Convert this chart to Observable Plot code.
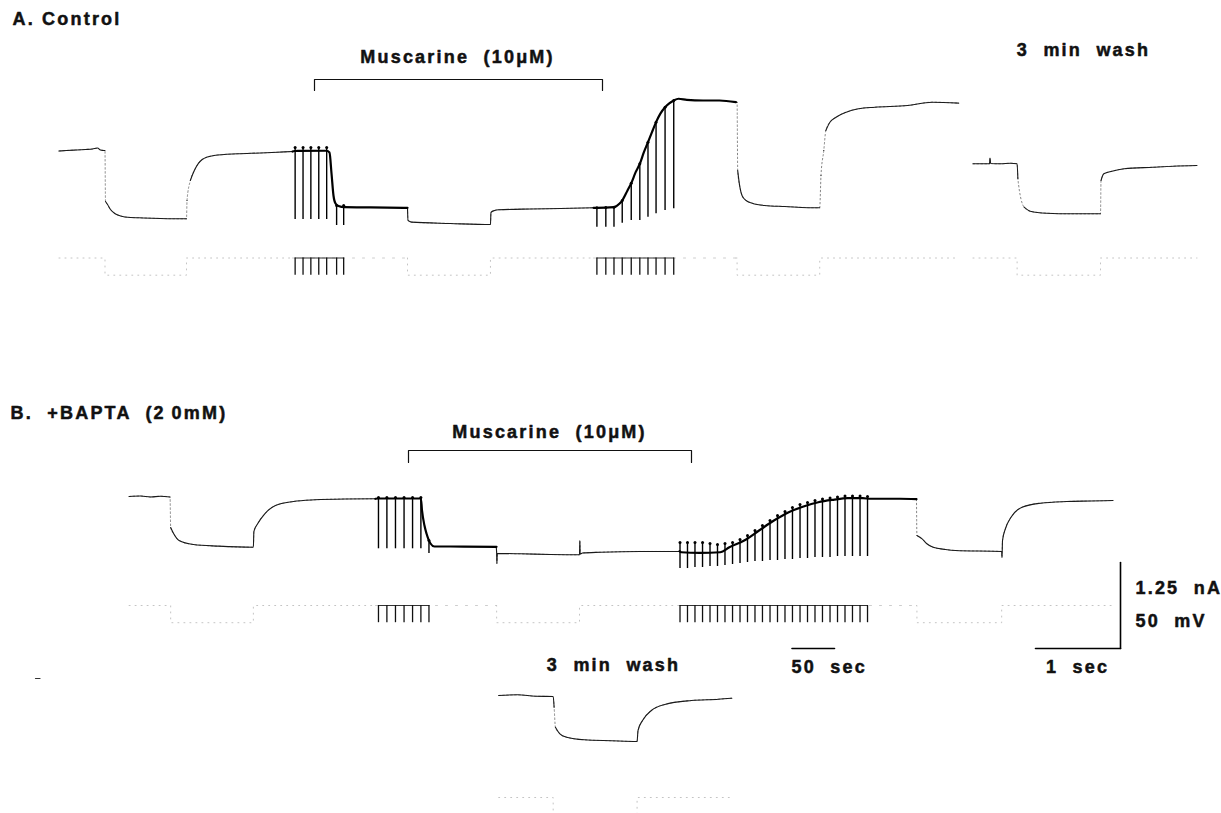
<!DOCTYPE html>
<html><head><meta charset="utf-8">
<script src="https://cdn.jsdelivr.net/npm/d3@7"></script>
<script src="https://cdn.jsdelivr.net/npm/@observablehq/plot@0.6"></script>
<style>
html,body{margin:0;padding:0;background:#fff;}
#chart{width:1221px;height:813px;overflow:hidden;}
svg text{white-space:pre;letter-spacing:2.2px;}
</style></head><body><div id="chart"></div>
<script>
// ================= DATA =================
// Fast sweeps: time in s (1 sec scale bar). Chart records: time in s (50 sec scale bar).
// Currents in nA relative to the holding current of each row; voltage commands in mV.

// ---- Panel A: Control ----
const aFast1T = [0,0.088,0.194,0.312,0.394,0.453,0.488,0.529,0.541,0.547,0.571,0.606,0.661,0.724,0.841,0.940,1.194,1.494,1.500,1.506,1.545,1.592,1.685,1.824,2.100,2.371,2.571,2.747];
const aFast1I = [-0.007,0,0.007,0.015,0.022,0.036,0.007,0,0,-0.741,-0.785,-0.858,-0.920,-0.952,-0.974,-0.978,-0.988,-0.993,-0.993,-0.727,-0.436,-0.291,-0.131,-0.073,-0.048,-0.036,-0.025,-0.015];
const aFast1VT = [0,0.541,0.541,1.500,1.500,2.747];
const aFast1VMV = [0,0,-10,-10,0,0];

const aChart1T = [0,2.4,40,43.5,45.9,48.2,50.6,54.1,61.2,91.8,135.3];
const aChart1I = [-0.015,-0.007,-0.004,-0.029,-0.334,-0.654,-0.770,-0.807,-0.824,-0.828,-0.833];
const aSpk1T = [3.1,12.4,21.6,30.9,40.2,51.9,60.2];
const aSpk1Top = [0.044,0.044,0.044,0.044,0.044,-0.799,-0.799];
const aSpk1Bot = [-1.003,-1.003,-1.003,-1.003,-1.003,-1.090,-1.090];

const aFast2T = [0,0.006,0.047,0.506,0.976,0.982,1.024,1.071,1.447,1.800,2.188];
const aFast2I = [-0.833,-1.017,-1.041,-1.061,-1.076,-0.901,-0.872,-0.862,-0.850,-0.843,-0.833];
const aFast2VT = [0,0,0.976,0.976,2.188];
const aFast2VMV = [0,-10,-10,0,0];

const aChart2T = [0,4,24.1,30.4,33.8,40,44.4,49.6,54.5,59.3,64.1,68.8,73.6,78.5,84.2,89.5,94.4,100.1,109.8,128.9,148.2,167.5];
const aChart2I = [-0.833,-0.833,-0.824,-0.775,-0.727,-0.581,-0.475,-0.315,-0.193,-0.025,0.121,0.267,0.412,0.533,0.629,0.688,0.727,0.752,0.737,0.727,0.727,0.702];
const aSpk2T = [4.0,14.5,24.1,33.8,44.4,54.5,64.1,73.6,84.2,94.4];
const aSpk2Top = [-0.833,-0.828,-0.824,-0.727,-0.475,-0.193,0.121,0.411,0.629,0.727];
const aSpk2Bot = [-1.115,-1.115,-1.115,-1.057,-1.017,-1.017,-0.969,-0.920,-0.872,-0.847];

const aFast3T = [0,0.014,0.021,0.047,0.072,0.120,0.192,0.336,0.576,0.976,0.986,1.001,1.034,1.058,1.106,1.178,1.298,1.442,1.635,2.019,2.308,2.621];
const aFast3I = [0.702,0.702,-0.291,-0.533,-0.654,-0.727,-0.766,-0.799,-0.814,-0.833,-0.833,-0.363,0,0.291,0.411,0.484,0.557,0.606,0.629,0.654,0.702,0.688];
const aFast3VT = [0,0.014,0.014,0.986,0.986,2.621];
const aFast3VMV = [0,0,-10,-10,0,0];

const aWashT = [0,0.147,0.194,0.200,0.208,0.324,0.441,0.519,0.528,0.601,0.673,0.865,1.154,1.394,1.500,1.506,1.539,1.635,1.779,2.116,2.356,2.635];
const aWashI = [-0.193,-0.193,-0.193,-0.109,-0.189,-0.193,-0.185,-0.193,-0.411,-0.824,-0.882,-0.911,-0.920,-0.920,-0.920,-0.436,-0.339,-0.301,-0.266,-0.243,-0.228,-0.218];
const aWashVT = [0,0.519,0.519,1.500,1.500,2.635];
const aWashVMV = [0,0,-10,-10,0,0];

// ---- Panel B: +BAPTA (20 mM) ----
const bFast1T = [0,0.134,0.252,0.369,0.482,0.489,0.525,0.588,0.756,1.051,1.462,1.468,1.512,1.596,1.722,1.933,2.185,2.546,2.900];
const bFast1I = [0,0.007,-0.007,0.004,-0.007,-0.451,-0.542,-0.640,-0.698,-0.722,-0.737,-0.509,-0.397,-0.251,-0.131,-0.073,-0.048,-0.036,-0.033];
const bFast1VT = [0,0.489,0.489,1.462,1.462,2.900];
const bFast1VMV = [0,0,-10,-10,0,0];

const bChart1T = [0,3.5,53.4,54.7,57.6,60,64.7,69.4,88.2,142.4];
const bChart1I = [-0.033,-0.029,-0.029,-0.203,-0.422,-0.538,-0.683,-0.727,-0.727,-0.731];
const bSpk1T = [3.5,13.4,23.5,33.6,43.6,53.4,62.9];
const bSpk1Top = [-0.015,-0.015,-0.015,-0.015,-0.015,-0.015,-0.640];
const bSpk1Bot = [-0.760,-0.760,-0.760,-0.760,-0.760,-0.760,-0.828];

const bFast2T = [0,0.005,0.008,0.013,0.286,0.639,0.980,0.984,0.988,1.015,1.227,1.698,2.156];
const bFast2I = [-0.731,-0.814,-0.974,-0.828,-0.833,-0.843,-0.847,-0.640,-0.836,-0.821,-0.810,-0.799,-0.799];
const bFast2VT = [0,0.005,0.005,0.980,0.980,2.156];
const bFast2VMV = [0,0,-10,-10,0,0];

const bChart2T = [0,2.1,23.9,47.9,58.7,76.1,93.6,111.1,128.5,145.9,163.3,180.8,198.2,215.6,224.4,259.3,278.8];
const bChart2I = [-0.795,-0.810,-0.818,-0.810,-0.737,-0.640,-0.494,-0.349,-0.228,-0.145,-0.083,-0.048,-0.025,-0.025,-0.033,-0.033,-0.039];
const bSpk2T = [0.6,9.4,18.2,27.1,35.9,44.7,53.5,62.4,71.2,80.0,88.8,97.6,106.5,115.3,124.1,132.9,141.8,150.6,159.4,168.2,177.1,185.9,194.7,203.5,212.4,221.2];
const bSpk2Top = [-0.669,-0.669,-0.669,-0.669,-0.683,-0.698,-0.683,-0.669,-0.625,-0.567,-0.494,-0.422,-0.349,-0.276,-0.218,-0.160,-0.116,-0.087,-0.058,-0.036,-0.022,-0.007,0.007,0.007,0.007,0];
const bSpk2Bot = [-1.047,-1.047,-1.032,-1.032,-1.017,-1.017,-1.003,-0.988,-0.974,-0.959,-0.945,-0.945,-0.930,-0.930,-0.916,-0.916,-0.901,-0.901,-0.887,-0.887,-0.887,-0.872,-0.872,-0.872,-0.872,-0.872];

const bFast3T = [0,0.005,0.066,0.118,0.196,0.341,0.458,1.002,1.006,1.012,1.047,1.112,1.242,1.461,1.766,2.047,2.311];
const bFast3I = [-0.039,-0.567,-0.615,-0.683,-0.737,-0.770,-0.785,-0.799,-0.887,-0.640,-0.465,-0.301,-0.156,-0.097,-0.073,-0.065,-0.058];
const bFast3VT = [0,0.005,0.005,1.002,1.002,2.311];
const bFast3VMV = [0,0,-10,-10,0,0];

const bWashT = [0,0.221,0.431,0.641,0.652,0.667,0.720,0.799,1.008,1.324,1.628,1.639,1.692,1.796,1.954,2.269,2.585,2.742];
const bWashI = [0,0.010,-0.010,-0.015,-0.170,-0.461,-0.557,-0.606,-0.644,-0.658,-0.669,-0.509,-0.363,-0.218,-0.131,-0.073,-0.054,-0.039];
const bWashVT = [0,0.641,0.641,1.628,1.628,2.742];
const bWashVMV = [0,0,-10,-10,0,0];

const stepMV = -10;                 // hyperpolarising command step
const scaleNA = 1.25, scaleMV = 50, scaleSec = 1, chartScaleSec = 50;

const labelTexts = ["A. Control","Muscarine  (10μM)","3  min  wash","B.  +BAPTA  (2\u20090mM)","Muscarine  (10μM)","1.25  nA","50  mV","3  min  wash","50  sec","1  sec"];

// ================= LAYOUT (page pixels) =================
const W = 1221, H = 813;
const PX_PER_SEC = 85;              // length of 1 sec bar
const PX_PER_NA = 86 / scaleNA;     // 1.25 nA bar is 86 px
const CHART = 0.01;                 // chart speed: 50 sec bar = half of 1 sec bar
const NA_PER_MV = scaleNA / scaleMV;
const X = px => px / PX_PER_SEC;
const Y = px => -px / PX_PER_NA;

const segLayout = {
  aFast1:{x0:58.5,y0:150,v0:257.5}, aChart1:{x0:292,y0:150,v0:257.5}, aFast2:{x0:407,y0:150,v0:257.5},
  aChart2:{x0:593,y0:150,v0:257.5}, aFast3:{x0:735.4,y0:150,v0:257.5}, aWash:{x0:972.5,y0:150,v0:257.5},
  bFast1:{x0:128.6,y0:496,v0:605}, bChart1:{x0:375,y0:496,v0:605}, bFast2:{x0:495.7,y0:496,v0:605},
  bChart2:{x0:679,y0:496,v0:605}, bFast3:{x0:916,y0:496,v0:605}, bWash:{x0:498.2,y0:695,v0:797}
};
const segments = [
  {id:"aFast1",t:aFast1T,i:aFast1I,vT:aFast1VT,vMV:aFast1VMV},
  {id:"aChart1",chart:true,t:aChart1T,i:aChart1I,spkT:aSpk1T,spkTop:aSpk1Top,spkBot:aSpk1Bot},
  {id:"aFast2",t:aFast2T,i:aFast2I,vT:aFast2VT,vMV:aFast2VMV},
  {id:"aChart2",chart:true,t:aChart2T,i:aChart2I,spkT:aSpk2T,spkTop:aSpk2Top,spkBot:aSpk2Bot},
  {id:"aFast3",t:aFast3T,i:aFast3I,vT:aFast3VT,vMV:aFast3VMV},
  {id:"aWash",t:aWashT,i:aWashI,vT:aWashVT,vMV:aWashVMV},
  {id:"bFast1",t:bFast1T,i:bFast1I,vT:bFast1VT,vMV:bFast1VMV},
  {id:"bChart1",chart:true,t:bChart1T,i:bChart1I,spkT:bSpk1T,spkTop:bSpk1Top,spkBot:bSpk1Bot},
  {id:"bFast2",t:bFast2T,i:bFast2I,vT:bFast2VT,vMV:bFast2VMV},
  {id:"bChart2",chart:true,t:bChart2T,i:bChart2I,spkT:bSpk2T,spkTop:bSpk2Top,spkBot:bSpk2Bot},
  {id:"bFast3",t:bFast3T,i:bFast3I,vT:bFast3VT,vMV:bFast3VMV},
  {id:"bWash",t:bWashT,i:bWashI,vT:bWashVT,vMV:bWashVMV}
];
const tx = (s, t) => X(segLayout[s.id].x0) + (s.chart ? t * CHART : t);

const curPts = segments.flatMap(s => s.t.map((t, k) => ({id:s.id, chart:!!s.chart, x:tx(s,t), y:Y(segLayout[s.id].y0) + s.i[k]})));

// fast sweeps: the pen moves fast on steep transitions, so those parts print faint.
// Split each sweep into runs of slow (solid) parts.
const fastRuns = [];
segments.filter(s => !s.chart).forEach(s => {
  const pts = curPts.filter(d => d.id === s.id);
  let run = 0;
  pts.forEach((p, k) => {
    if (k > 0) {
      const q = pts[k-1];
      const dxp = (p.x - q.x) * PX_PER_SEC, dyp = Math.abs(p.y - q.y) * PX_PER_NA;
      const steep = dyp >= 18 && dyp > 2.5 * dxp;
      if (steep) run++;
      else {
        const last = fastRuns[fastRuns.length-1];
        if (!last || last.run !== s.id + "_" + run) fastRuns.push({...q, run:s.id + "_" + run});
      }
    }
    fastRuns.push({...p, run:s.id + "_" + run});
  });
});

const volPts = segments.filter(s => s.vT).flatMap(s => s.vT.map((t, k) => ({id:s.id, x:tx(s,t), y:Y(segLayout[s.id].v0) + s.vMV[k]*NA_PER_MV})));
const chartHold = segments.filter(s => s.chart).flatMap(s => [0, s.t[s.t.length-1]].map(t => ({id:s.id, x:tx(s,t), y:Y(segLayout[s.id].v0)})));
const tickBars = segments.filter(s => s.chart).flatMap(s => [s.spkT[0], s.spkT[s.spkT.length-1]].map(t => ({id:s.id, x:tx(s,t), y:Y(segLayout[s.id].v0)})));
const spikes = segments.filter(s => s.chart).flatMap(s => s.spkT.map((t, k) => {
  const L = segLayout[s.id];
  return {x:tx(s,t), top:Y(L.y0)+s.spkTop[k], bot:Y(L.y0)+s.spkBot[k], vTop:Y(L.v0), vBot:Y(L.v0)+stepMV*NA_PER_MV};
}));

const labelLayout = [
  {x:12,y:19,a:"start"},{x:457,y:57,a:"middle"},{x:1083,y:50,a:"middle"},
  {x:10,y:413,a:"start"},{x:549,y:432,a:"middle"},{x:1135,y:588,a:"start"},
  {x:1135,y:621,a:"start"},{x:613,y:665,a:"middle"},{x:791,y:667,a:"start"},{x:1077,y:667,a:"middle"}
].map((d, i) => ({...d, text: labelTexts[i]}));

const brackets = [{x1:314,x2:602,y:79,drop:11},{x1:408,x2:691,y:450,drop:12}]
  .flatMap((b, k) => [[b.x1,b.y+b.drop],[b.x1,b.y],[b.x2,b.y],[b.x2,b.y+b.drop]].map(([x,y]) => ({id:k, x:X(x), y:Y(y)})));

const barCorner = {x:1120, y:648};
const bars = [
  {id:"v", pts:[[X(barCorner.x), Y(barCorner.y)+scaleNA],[X(barCorner.x), Y(barCorner.y)]]},
  {id:"h", pts:[[X(barCorner.x)-scaleSec, Y(barCorner.y)],[X(barCorner.x), Y(barCorner.y)]]},
  {id:"c", pts:[[X(791.5), Y(barCorner.y)],[X(791.5)+chartScaleSec*CHART, Y(barCorner.y)]]}
].flatMap(b => b.pts.map(([x,y]) => ({id:b.id, x, y})));
const stray = [{x:X(35),y:Y(678)},{x:X(39.5),y:Y(678)}];

const font = {fontFamily:"'Liberation Sans', Arial, Helvetica, sans-serif", fontWeight:"bold", fontSize:18, fill:"#111", stroke:"#111", strokeWidth:0.5};

const chart = Plot.plot({
  width: W, height: H, margin: 0,
  x: {domain:[0, X(W)], axis:null},
  y: {domain:[Y(H), 0], axis:null},
  style: {background:"#fff"},
  marks: [
    // voltage command rows (very faint in the print)
    Plot.line(volPts, {x:"x", y:"y", z:"id", stroke:"#b5b5b5", strokeWidth:0.8, strokeDasharray:"1,5"}),
    Plot.line(chartHold, {x:"x", y:"y", z:"id", stroke:"#c0c0c0", strokeWidth:0.8, strokeDasharray:"2,8"}),
    Plot.line(tickBars, {x:"x", y:"y", z:"id", stroke:"#333", strokeWidth:1}),
    Plot.ruleX(spikes, {x:"x", y1:"vTop", y2:"vBot", stroke:"#111", strokeWidth:1.3}),
    // fast current sweeps: faint full trace + solid slow parts
    Plot.line(curPts.filter(d => !d.chart), {x:"x", y:"y", z:"id", curve:"monotone-x", stroke:"#666", strokeWidth:0.8, strokeDasharray:"1.5,2.5"}),
    Plot.line(fastRuns, {x:"x", y:"y", z:"run", curve:"monotone-x", stroke:"#1a1a1a", strokeWidth:1.1}),
    // chart records
    Plot.line(curPts.filter(d => d.chart), {x:"x", y:"y", z:"id", curve:"monotone-x", stroke:"#000", strokeWidth:2.2}),
    Plot.ruleX(spikes, {x:"x", y1:"top", y2:"bot", stroke:"#000", strokeWidth:1.4}),
    Plot.dot(spikes, {x:"x", y:"top", r:1.5, fill:"#000", stroke:null}),
    // annotations
    Plot.line(brackets, {x:"x", y:"y", z:"id", stroke:"#111", strokeWidth:1.2}),
    Plot.line(bars, {x:"x", y:"y", z:"id", stroke:"#000", strokeWidth:1.6}),
    Plot.line(stray, {x:"x", y:"y", stroke:"#333", strokeWidth:1.2}),
    Plot.text(labelLayout.filter(d => d.a === "start"), {x:d => X(d.x), y:d => Y(d.y), text:"text", textAnchor:"start", lineAnchor:"middle", ...font}),
    Plot.text(labelLayout.filter(d => d.a === "middle"), {x:d => X(d.x), y:d => Y(d.y), text:"text", textAnchor:"middle", lineAnchor:"middle", ...font})
  ]
});
document.getElementById("chart").appendChild(chart);
</script>
</body></html>
